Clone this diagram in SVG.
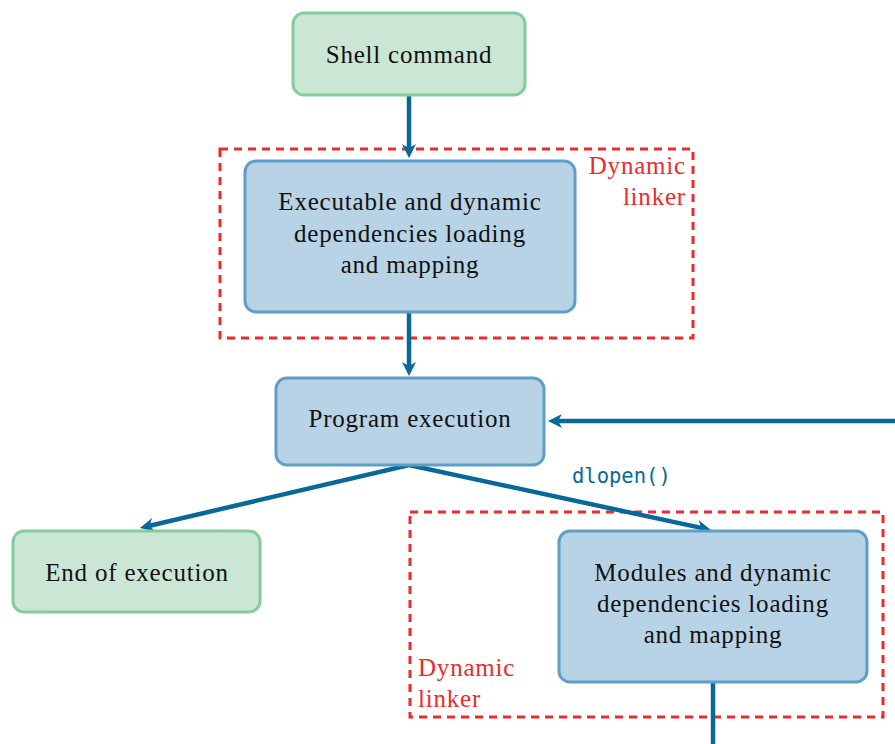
<svg xmlns="http://www.w3.org/2000/svg" width="895" height="744" viewBox="0 0 895 744">
<style>
.green{fill:#cce6d5;stroke:#84cb9d;stroke-width:3}
.blue{fill:#b8d3e6;stroke:#5f9ec6;stroke-width:3}
.t{font-family:"Liberation Serif","Times New Roman",serif;font-size:25px;fill:#111;text-anchor:middle;letter-spacing:0.8px}
.dl{fill:none;stroke:#ee2a2a;stroke-width:3;stroke-dasharray:8 6}
.rt{font-family:"Liberation Serif","Times New Roman",serif;font-size:25px;fill:#ee2a2a;letter-spacing:0.8px}
.c{fill:none;stroke:#08689a;stroke-width:4.5;stroke-linejoin:miter}
.mono{font-family:"DejaVu Sans Mono","Liberation Mono",monospace;font-size:20.5px;fill:#08689a}
</style>
<defs>
<marker id="ah" markerUnits="userSpaceOnUse" markerWidth="16" markerHeight="16" viewBox="-1 -8 16 16" refX="4" refY="0" orient="auto-start-reverse">
<path d="M0,-7 L14,0 L0,7 L4,0 z" fill="#08689a"/>
</marker>
</defs>
<g id="dynlinker1">
<rect class="dl" x="220" y="149" width="473" height="189"/>
<text class="rt" x="686" y="174" text-anchor="end">Dynamic</text>
<text class="rt" x="686" y="205" text-anchor="end">linker</text>
</g>
<g id="dynlinker2">
<rect class="dl" x="410" y="512" width="473" height="205"/>
<text class="rt" x="418" y="676">Dynamic</text>
<text class="rt" x="418" y="707">linker</text>
</g>
<g id="connectors">
<path class="c" d="M409,95 L409,148" marker-end="url(#ah)"/>
<path class="c" d="M409,312 L409,366" marker-end="url(#ah)"/>
<path class="c" d="M895,421 L558,421" marker-end="url(#ah)"/>
<path class="c" d="M149.7,525.7 L409,465 L701.2,527.9" marker-start="url(#ah)" marker-end="url(#ah)"/>
<path class="c" d="M713,682 L713,744"/>
<text class="mono" x="572" y="483">dlopen()</text>
</g>
<g id="shell">
<rect class="green" x="293" y="13" width="232" height="82" rx="11"/>
<text class="t" x="409" y="62.5">Shell command</text>
</g>
<g id="exec-load">
<rect class="blue" x="245" y="161" width="330" height="151" rx="11"/>
<text class="t" x="410" y="210">Executable and dynamic</text>
<text class="t" x="410" y="241.5">dependencies loading</text>
<text class="t" x="410" y="273">and mapping</text>
</g>
<g id="program">
<rect class="blue" x="276" y="378" width="268" height="87" rx="11"/>
<text class="t" x="410" y="427">Program execution</text>
</g>
<g id="end">
<rect class="green" x="13" y="531" width="247" height="81" rx="11"/>
<text class="t" x="137" y="581">End of execution</text>
</g>
<g id="modules">
<rect class="blue" x="559" y="531" width="308" height="151" rx="11"/>
<text class="t" x="713" y="581">Modules and dynamic</text>
<text class="t" x="713" y="612">dependencies loading</text>
<text class="t" x="713" y="643">and mapping</text>
</g>
</svg>
